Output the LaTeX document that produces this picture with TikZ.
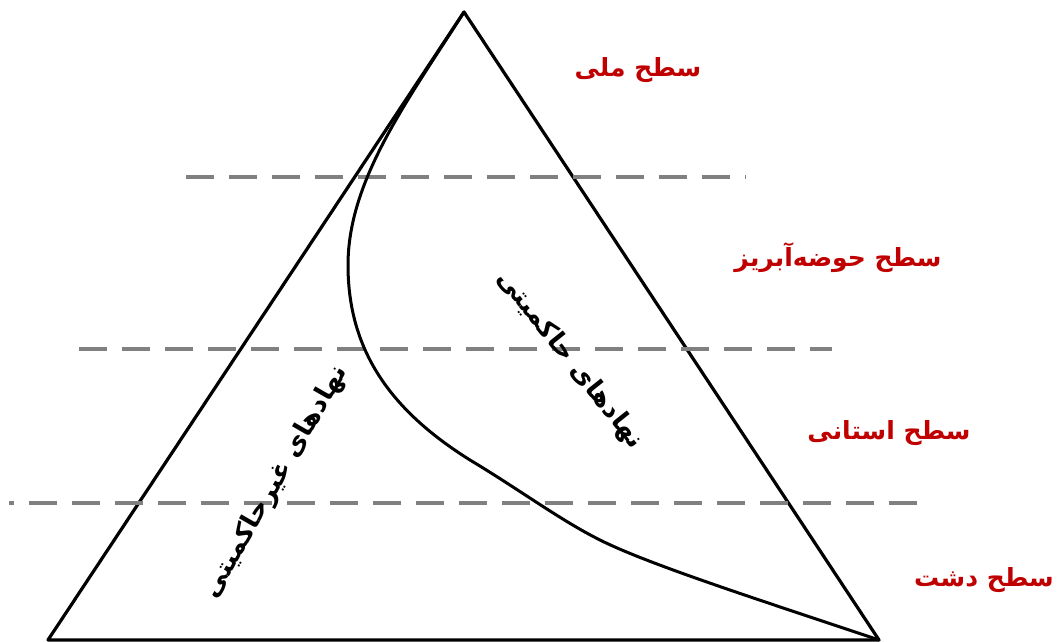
\documentclass[tikz,border=0pt]{standalone}
\usepackage{fontspec}
\newfontfamily\arabicfont[Script=Arabic]{DejaVu Sans}
\TeXXeTstate=1
\definecolor{lvlred}{RGB}{192,0,0}
\definecolor{dashgray}{RGB}{128,128,128}
\tikzset{
  edge/.style={line width=3.2pt, line join=round, line cap=round},
  levelline/.style={line width=3.6pt, dashgray, dash pattern=on 28pt off 15pt},
  levellabel/.style={text=lvlred, font=\arabicfont\bfseries\fontsize{25}{28}\selectfont, inner sep=0pt},
  instlabel/.style={text=black, font=\arabicfont\bfseries\fontsize{26}{30}\selectfont, inner sep=0pt}
}
\begin{document}
\begin{tikzpicture}[x=1pt,y=-1pt]
\useasboundingbox (0,0) rectangle (1057,642);
% triangle corners
\coordinate (apex) at (464,12);
\coordinate (bl) at (48,640);
\coordinate (br) at (879,640);
\draw[edge] (apex) -- (bl) -- (br) -- cycle;
% dashed level lines
\coordinate (d1a) at (186,177); \coordinate (d1b) at (746,177);
\coordinate (d2a) at (79,349);  \coordinate (d2b) at (832,349);
\coordinate (d3a) at (9,503);   \coordinate (d3b) at (920,503);
\draw[levelline] (d1a) -- (d1b);
\draw[levelline] (d2a) -- (d2b);
\draw[levelline, dash phase=23pt] (d3a) -- (d3b);
% dividing curve
\coordinate (c1) at (348,265);
\coordinate (c2) at (470,460);
\coordinate (c3) at (600,540);
\draw[edge, line width=3pt] (apex)
  .. controls (408,100) and (348,180) .. (c1)
  .. controls (348,350) and (390,410) .. (c2)
  .. controls (520,490) and (560,520) .. (c3)
  .. controls (650,565) and (760,600) .. (br);
% level labels
\node[levellabel] (national) at (638,70) {\beginR سطح ملی\endR};
\node[levellabel] (basin) at (838,258) {\beginR سطح حوضه‌آبریز\endR};
\node[levellabel] (province) at (889,433) {\beginR سطح استانی\endR};
\node[levellabel] (plain) at (984,580) {\beginR سطح دشت\endR};
% institution labels
\node[instlabel, rotate=-51.5] (gov) at (570,360) {\beginR نهادهای حاکمیتی\endR};
\node[instlabel, rotate=60] (nongov) at (276,482) {\beginR نهادهای غیرحاکمیتی\endR};
\end{tikzpicture}
\end{document}
